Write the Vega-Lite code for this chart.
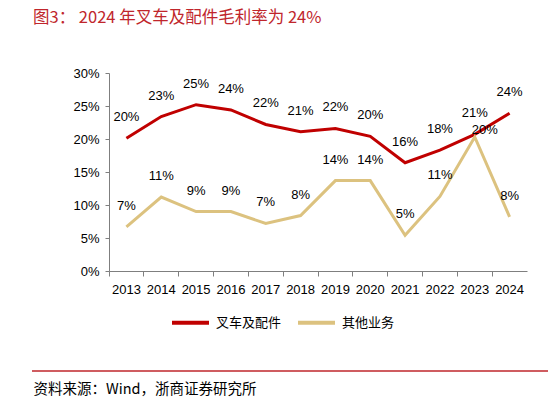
{
  "$schema": "https://vega.github.io/schema/vega-lite/v6.json",
  "width": 418,
  "height": 198,
  "autosize": {"type": "none"},
  "padding": {"left": 109, "top": 73, "right": 21, "bottom": 131},
  "background": "white",
  "title": {
    "text": "图3：  2024 年叉车及配件毛利率为 24%",
    "anchor": "start",
    "frame": "group",
    "dx": -76,
    "offset": 41,
    "font": "Noto Sans CJK SC",
    "fontSize": 16.5,
    "fontWeight": "normal",
    "color": "#c0262c"
  },
  "config": {
    "view": {"stroke": null},
    "font": "Liberation Sans"
  },
  "data": {
    "values": [
      {"year": "2013", "series": "叉车及配件", "value": 0.201},
      {"year": "2014", "series": "叉车及配件", "value": 0.234},
      {"year": "2015", "series": "叉车及配件", "value": 0.252},
      {"year": "2016", "series": "叉车及配件", "value": 0.244},
      {"year": "2017", "series": "叉车及配件", "value": 0.222},
      {"year": "2018", "series": "叉车及配件", "value": 0.211},
      {"year": "2019", "series": "叉车及配件", "value": 0.216},
      {"year": "2020", "series": "叉车及配件", "value": 0.204},
      {"year": "2021", "series": "叉车及配件", "value": 0.164},
      {"year": "2022", "series": "叉车及配件", "value": 0.183},
      {"year": "2023", "series": "叉车及配件", "value": 0.207},
      {"year": "2024", "series": "叉车及配件", "value": 0.239},
      {"year": "2013", "series": "其他业务", "value": 0.067},
      {"year": "2014", "series": "其他业务", "value": 0.112},
      {"year": "2015", "series": "其他业务", "value": 0.090},
      {"year": "2016", "series": "其他业务", "value": 0.090},
      {"year": "2017", "series": "其他业务", "value": 0.072},
      {"year": "2018", "series": "其他业务", "value": 0.084},
      {"year": "2019", "series": "其他业务", "value": 0.137},
      {"year": "2020", "series": "其他业务", "value": 0.137},
      {"year": "2021", "series": "其他业务", "value": 0.054},
      {"year": "2022", "series": "其他业务", "value": 0.113},
      {"year": "2023", "series": "其他业务", "value": 0.203},
      {"year": "2024", "series": "其他业务", "value": 0.082}
    ]
  },
  "encoding": {
    "x": {
      "field": "year",
      "type": "ordinal",
      "scale": {"type": "band", "paddingInner": 0, "paddingOuter": 0},
      "axis": {
        "labelAngle": 0,
        "labelFontSize": 13,
        "labelColor": "#000000",
        "labelPadding": 7,
        "domainColor": "#7f7f7f",
        "tickColor": "#7f7f7f",
        "tickSize": 5,
        "bandPosition": 0,
        "title": "资料来源：Wind，浙商证券研究所",
        "titleX": -76,
        "titleY": 118,
        "titleAlign": "left",
        "titleBaseline": "middle",
        "titleFont": "Noto Sans CJK SC",
        "titleFontSize": 14.5,
        "titleFontWeight": "normal",
        "titleColor": "#000000"
      }
    },
    "y": {
      "field": "value",
      "type": "quantitative",
      "scale": {"domain": [0, 0.3], "nice": false},
      "axis": {
        "values": [0, 0.05, 0.1, 0.15, 0.2, 0.25, 0.3],
        "format": ".0%",
        "grid": false,
        "title": null,
        "labelFontSize": 13,
        "labelColor": "#000000",
        "labelPadding": 6,
        "domainColor": "#7f7f7f",
        "tickColor": "#7f7f7f",
        "tickSize": 4
      }
    }
  },
  "layer": [
    {
      "mark": {"type": "line", "strokeWidth": 3},
      "encoding": {
        "color": {
          "field": "series",
          "type": "nominal",
          "scale": {"domain": ["叉车及配件", "其他业务"], "range": ["#c00000", "#dcc27f"]},
          "legend": {
            "title": null,
            "orient": "none",
            "legendX": 61,
            "legendY": 229,
            "direction": "horizontal",
            "padding": 0,
            "symbolType": "stroke",
            "symbolStrokeWidth": 4,
            "symbolSize": 1369,
            "labelFont": "Noto Sans CJK SC",
            "labelFontSize": 13,
            "labelColor": "#000000",
            "labelOffset": 5,
            "columnPadding": 8
          }
        }
      }
    },
    {
      "transform": [{"filter": "!(datum.year == '2023' && datum.series == '其他业务')"}],
      "mark": {"type": "text", "dy": -21, "fontSize": 13, "color": "#000000"},
      "encoding": {"text": {"field": "value", "format": ".0%"}}
    },
    {
      "transform": [{"filter": "datum.year == '2023' && datum.series == '其他业务'"}],
      "mark": {"type": "text", "dy": -7, "dx": 10, "fontSize": 13, "color": "#000000"},
      "encoding": {"text": {"field": "value", "format": ".0%"}}
    },
    {
      "data": {"values": [{"pos": "top"}, {"pos": "bottom"}]},
      "mark": {"type": "rule", "strokeWidth": 1.2},
      "encoding": {
        "x": {"value": -77},
        "x2": {"value": 439},
        "y": {"condition": {"test": "datum.pos == 'top'", "value": -42}, "value": 298},
        "color": {"value": "#c0262c"}
      }
    }
  ]
}
